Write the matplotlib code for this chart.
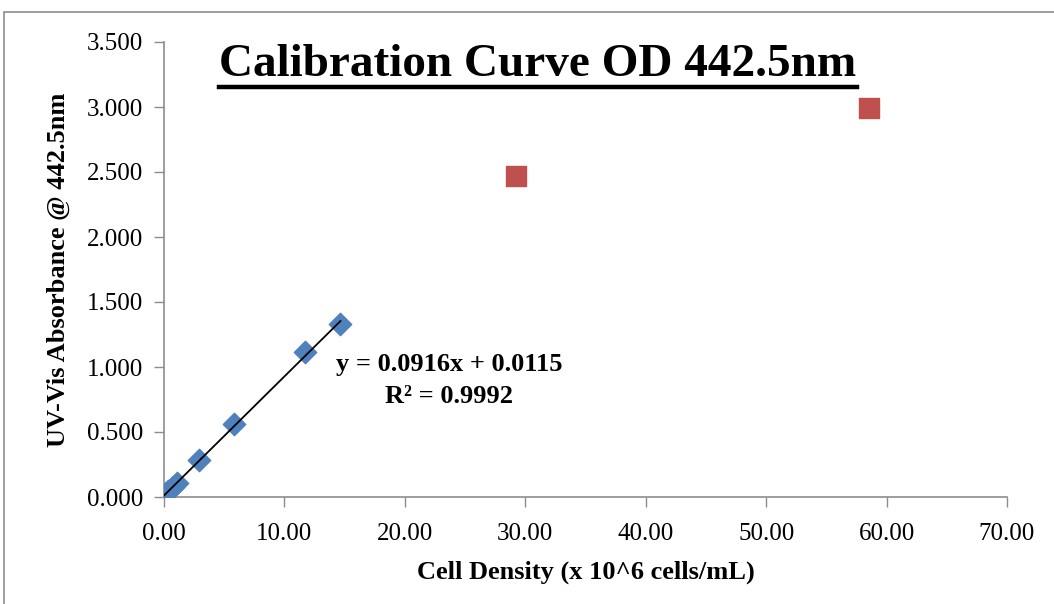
import numpy as np
import matplotlib
matplotlib.use('Agg')
import matplotlib.pyplot as plt
from matplotlib.lines import Line2D
from matplotlib.patches import Rectangle

plt.rcParams['font.family'] = ['Liberation Serif', 'DejaVu Serif']

# data
dens_cal = [0.0, 0.18, 0.37, 0.73, 1.10, 2.90, 5.80, 11.70, 14.65]
abs_cal = [0.010, 0.028, 0.045, 0.075, 0.110, 0.285, 0.560, 1.115, 1.330]
dens_out = [29.2, 58.5]
abs_out = [2.470, 2.995]
slope, intercept = 0.0916, 0.0115

fig = plt.figure(figsize=(10.54, 6.04), dpi=100)
fig.patches.append(Rectangle((4 / 1054, -0.05), 1.2, 1 - 12 / 604 + 0.05, transform=fig.transFigure,
                             fill=False, edgecolor='#8c8c8c', linewidth=1.2))
ax = fig.add_axes([164 / 1054, 1 - 497 / 604, (1007 - 164) / 1054, (497 - 42) / 604])

ax.scatter(dens_out, abs_out, marker='s', s=200, color='#c0504d', zorder=3)
ax.scatter(dens_cal, abs_cal, marker='D', s=130, color='#4f81bd', zorder=3)
xs = np.array([0, max(dens_cal)])
ax.plot(xs, slope * xs + intercept, color='black', linewidth=1.3, zorder=4)

ax.set_xlim(0, 70)
ax.set_ylim(0, 3.5)
ax.set_xticks(np.arange(0, 71, 10))
ax.set_yticks(np.arange(0, 3.51, 0.5))
ax.set_xticklabels(['%.2f' % v for v in np.arange(0, 71, 10)])
ax.set_yticklabels(['%.3f' % v for v in np.arange(0, 3.51, 0.5)])
ax.tick_params(labelsize=18, color='#8c8c8c', length=7, width=1)
ax.tick_params(axis='x', pad=12)
ax.tick_params(axis='y', pad=8)
for s in ['top', 'right']:
    ax.spines[s].set_visible(False)
for s in ['left', 'bottom']:
    ax.spines[s].set_color('#8c8c8c')
    ax.spines[s].set_linewidth(1.2)

ax.set_xlabel('Cell Density (x 10^6 cells/mL)', fontsize=19, fontweight='bold', labelpad=11)
ax.set_ylabel('UV-Vis Absorbance @ 442.5nm', fontsize=19, fontweight='bold', labelpad=12)

ax.text(0.338, 0.256, 'y = 0.0916x + 0.0115\nR² = 0.9992', transform=ax.transAxes,
        ha='center', va='center', fontsize=19, fontweight='bold', linespacing=1.45)

title = fig.text(538 / 1054, 1 - 65 / 604, 'Calibration Curve OD 442.5nm', ha='center', va='center',
                 fontsize=34, fontweight='bold')
fig.canvas.draw()
bb = title.get_window_extent().transformed(fig.transFigure.inverted())
fig.lines.append(Line2D([bb.x0, bb.x1], [bb.y0 - 0.002, bb.y0 - 0.002], transform=fig.transFigure,
                        color='black', linewidth=3.2))

fig.savefig('out.png', dpi=100)
